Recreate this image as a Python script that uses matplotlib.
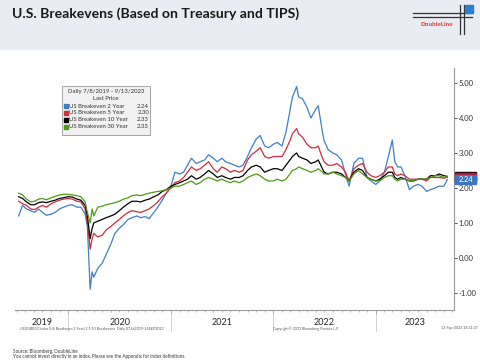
import numpy as np
import pandas as pd
import matplotlib
matplotlib.use("Agg")
import matplotlib.pyplot as plt
import matplotlib.dates as mdates
from matplotlib.patches import Rectangle
from matplotlib.lines import Line2D
from matplotlib.transforms import blended_transform_factory

plt.rcParams['font.family'] = ['Lato', 'DejaVu Sans']

# dates shared by all four series (roughly twice a month)
dates = [
    "2019-07-08", "2019-07-22", "2019-08-05", "2019-08-20", "2019-09-03", "2019-09-17",
    "2019-10-01", "2019-10-15", "2019-11-01", "2019-11-15", "2019-12-01", "2019-12-15",
    "2020-01-01", "2020-01-15", "2020-02-01", "2020-02-15", "2020-03-01", "2020-03-09",
    "2020-03-19", "2020-03-26", "2020-04-01", "2020-04-15", "2020-05-01", "2020-05-15",
    "2020-06-01", "2020-06-15", "2020-07-01", "2020-07-15", "2020-08-01", "2020-08-15",
    "2020-09-01", "2020-09-15", "2020-10-01", "2020-10-15", "2020-11-01", "2020-11-15",
    "2020-12-01", "2020-12-15",
    "2021-01-01", "2021-01-15", "2021-02-01", "2021-02-15", "2021-03-01", "2021-03-15",
    "2021-04-01", "2021-04-15", "2021-05-01", "2021-05-15", "2021-06-01", "2021-06-15",
    "2021-07-01", "2021-07-15", "2021-08-01", "2021-08-15", "2021-09-01", "2021-09-15",
    "2021-10-01", "2021-10-15", "2021-11-01", "2021-11-15", "2021-12-01", "2021-12-15",
    "2022-01-01", "2022-01-15", "2022-02-01", "2022-02-15", "2022-03-01", "2022-03-10",
    "2022-03-25", "2022-04-01", "2022-04-15", "2022-05-01", "2022-05-15", "2022-06-01",
    "2022-06-10", "2022-06-25", "2022-07-01", "2022-07-15", "2022-08-01", "2022-08-15",
    "2022-09-01", "2022-09-15", "2022-09-28", "2022-10-15", "2022-11-01", "2022-11-15",
    "2022-12-01", "2022-12-15",
    "2023-01-01", "2023-01-15", "2023-02-01", "2023-02-15", "2023-03-01", "2023-03-10",
    "2023-03-20", "2023-04-01", "2023-04-15", "2023-05-01", "2023-05-15", "2023-06-01",
    "2023-06-15", "2023-07-01", "2023-07-15", "2023-08-01", "2023-08-15", "2023-09-01",
    "2023-09-13",
]

be_2y = [
    1.20, 1.50, 1.40, 1.35, 1.30, 1.40, 1.30, 1.22, 1.25, 1.30, 1.40, 1.45,
    1.50, 1.52, 1.45, 1.45, 1.25, 0.90, -0.90, -0.40, -0.55, -0.30, -0.15, 0.10,
    0.40, 0.70, 0.85, 0.95, 1.10, 1.15, 1.20, 1.15, 1.18, 1.12, 1.30, 1.45, 1.65, 1.85,
    2.05, 2.45, 2.40, 2.45, 2.65, 2.85, 2.70, 2.75, 2.80, 2.95, 2.85, 2.75,
    2.85, 2.75, 2.70, 2.65, 2.60, 2.65, 2.90, 3.15, 3.40, 3.50, 3.20, 3.15,
    3.25, 3.30, 3.20, 3.60, 4.20, 4.60, 4.90, 4.60, 4.55, 4.30, 4.00, 4.25,
    4.35, 3.60, 3.35, 3.10, 3.00, 2.95, 2.80, 2.40, 2.05, 2.70, 2.85, 2.85, 2.30, 2.20,
    2.10, 2.20, 2.45, 2.90, 3.37, 2.75, 2.60, 2.60, 2.35, 1.95, 2.05, 2.10,
    2.05, 1.90, 1.95, 2.00, 2.05, 2.05, 2.24,
]
be_5y = [
    1.62, 1.55, 1.50, 1.40, 1.38, 1.45, 1.50, 1.45, 1.55, 1.60, 1.65, 1.68,
    1.70, 1.68, 1.62, 1.60, 1.40, 1.00, 0.25, 0.55, 0.70, 0.60, 0.65, 0.80,
    0.90, 1.00, 1.10, 1.20, 1.30, 1.35, 1.32, 1.30, 1.35, 1.40, 1.50, 1.60, 1.75, 1.85,
    2.00, 2.15, 2.20, 2.30, 2.45, 2.60, 2.50, 2.55, 2.65, 2.75, 2.55, 2.45,
    2.60, 2.55, 2.45, 2.50, 2.45, 2.50, 2.80, 2.95, 3.05, 3.15, 2.90, 2.85,
    2.90, 2.90, 2.90, 3.10, 3.35, 3.55, 3.70, 3.55, 3.45, 3.25, 3.15, 3.15,
    3.20, 2.85, 2.75, 2.65, 2.65, 2.70, 2.60, 2.45, 2.20, 2.55, 2.65, 2.70, 2.45, 2.35,
    2.30, 2.35, 2.45, 2.60, 2.60, 2.40, 2.35, 2.40, 2.35, 2.25, 2.25, 2.25,
    2.25, 2.20, 2.30, 2.30, 2.30, 2.28, 2.30,
]
be_10y = [
    1.75, 1.70, 1.60, 1.52, 1.52, 1.58, 1.60, 1.58, 1.62, 1.65, 1.70, 1.72,
    1.75, 1.74, 1.68, 1.65, 1.50, 1.20, 0.55, 0.85, 1.00, 1.05, 1.10, 1.15,
    1.20, 1.25, 1.35, 1.45, 1.55, 1.62, 1.62, 1.60, 1.65, 1.68, 1.75, 1.80, 1.90, 1.95,
    2.05, 2.10, 2.15, 2.20, 2.25, 2.35, 2.25, 2.30, 2.40, 2.50, 2.40, 2.30,
    2.35, 2.30, 2.25, 2.30, 2.30, 2.35, 2.50, 2.60, 2.65, 2.60, 2.45, 2.50,
    2.55, 2.55, 2.50, 2.65, 2.80, 2.90, 3.00, 2.90, 2.85, 2.80, 2.70, 2.75,
    2.80, 2.55, 2.45, 2.40, 2.45, 2.45, 2.40, 2.30, 2.20, 2.45, 2.55, 2.50, 2.30, 2.25,
    2.20, 2.25, 2.35, 2.45, 2.45, 2.30, 2.25, 2.30, 2.25, 2.20, 2.20, 2.25,
    2.25, 2.25, 2.35, 2.35, 2.40, 2.35, 2.33,
]
be_30y = [
    1.85, 1.80, 1.68, 1.60, 1.62, 1.68, 1.70, 1.66, 1.72, 1.76, 1.80, 1.82,
    1.82, 1.80, 1.78, 1.75, 1.60, 1.30, 1.00, 1.40, 1.20, 1.45, 1.48, 1.52,
    1.55, 1.58, 1.62, 1.68, 1.72, 1.78, 1.80, 1.78, 1.82, 1.85, 1.88, 1.90, 1.92, 1.95,
    2.00, 2.05, 2.05, 2.10, 2.15, 2.20, 2.10, 2.15, 2.25, 2.30, 2.25, 2.20,
    2.25, 2.20, 2.15, 2.20, 2.15, 2.20, 2.30, 2.35, 2.40, 2.35, 2.25, 2.20,
    2.20, 2.25, 2.20, 2.25, 2.40, 2.50, 2.55, 2.60, 2.55, 2.50, 2.45, 2.50,
    2.55, 2.45, 2.40, 2.40, 2.45, 2.40, 2.35, 2.30, 2.20, 2.40, 2.50, 2.40, 2.30, 2.25,
    2.20, 2.20, 2.30, 2.35, 2.35, 2.25, 2.20, 2.25, 2.25, 2.20, 2.20, 2.25,
    2.25, 2.25, 2.30, 2.35, 2.35, 2.30, 2.33,
]

series_names = ["US Breakeven 2 Year", "US Breakeven 5 Year",
                "US Breakeven 10 Year", "US Breakeven 30 Year"]
series_colors = ["#3f7fc6", "#d42a3c", "#000000", "#4f9a16"]
years = [2019, 2020, 2021, 2022, 2023]
ytick_vals = [-1, 0, 1, 2, 3, 4, 5]

W, H = 481, 364
fig = plt.figure(figsize=(W / 100, H / 100), dpi=100)

def fx(px):
    return px / W

def fy(py):
    return 1 - py / H

# header band
fig.patches.append(Rectangle((0, fy(49)), 1, 49 / H, transform=fig.transFigure,
                             color="#e9ecf2", zorder=0))
fig.text(fx(12), fy(13.5), "U.S. Breakevens (Based on Treasury and TIPS)",
         fontsize=10.1, fontweight="bold", color="#1a1a1a", va="center", ha="left")

# DoubleLine logo
for yy in [13.3, 16.7]:
    fig.add_artist(Line2D([fx(413), fx(472)], [fy(yy), fy(yy)], color="#333333", lw=0.9))
for xx in [460, 464]:
    fig.add_artist(Line2D([fx(xx), fx(xx)], [fy(5), fy(34)], color="#333333", lw=0.9))
fig.patches.append(Rectangle((fx(465), fy(13)), 8 / W, 8 / H, transform=fig.transFigure,
                             color="#2b7fd0", zorder=3))
fig.text(fx(437), fy(25), "DoubleLine", fontsize=4.6, fontweight="bold",
         color="#e2382e", ha="center", va="center")

# main axes
ax = fig.add_axes([fx(15), fy(310), (454 - 15) / W, (310 - 68) / H])
x = pd.to_datetime(dates)
for vals, c in zip([be_2y, be_5y, be_10y, be_30y], series_colors):
    ax.plot(x, vals, color=c, lw=0.9)

ax.set_xlim(pd.Timestamp("2019-06-25"), pd.Timestamp("2023-10-07"))
ax.set_ylim(-1.49, 5.43)

for s in ["top", "left"]:
    ax.spines[s].set_visible(False)
ax.spines["right"].set_color("#999999")
ax.spines["bottom"].set_color("#999999")
ax.spines["right"].set_linewidth(0.8)
ax.spines["bottom"].set_linewidth(0.8)

ax.yaxis.tick_right()
ax.set_yticks(ytick_vals)
ax.set_yticklabels(["%.2f" % v for v in ytick_vals])
ax.tick_params(axis="y", labelsize=5.5, colors="#333333", length=2, width=0.6, pad=1.5)

ax.xaxis.set_major_locator(mdates.YearLocator())
ax.xaxis.set_minor_locator(mdates.MonthLocator())
ax.xaxis.set_major_formatter(plt.NullFormatter())
ax.tick_params(axis="x", which="major", length=3, width=0.6, colors="#999999")
ax.tick_params(axis="x", which="minor", length=1.5, width=0.5, colors="#999999")

# year labels and separators below the axis
trans = blended_transform_factory(ax.transData, ax.transAxes)
x0, x1 = ax.get_xlim()
for yr in years:
    a = max(mdates.date2num(pd.Timestamp(f"{yr}-01-01")), x0)
    b = min(mdates.date2num(pd.Timestamp(f"{yr + 1}-01-01")), x1)
    ax.text((a + b) / 2, -0.052, str(yr), transform=trans, ha="center", va="center",
            fontsize=6.5, color="#222222", clip_on=False)
    if yr > years[0]:
        sx = mdates.date2num(pd.Timestamp(f"{yr}-01-01"))
        ax.plot([sx, sx], [-0.02, -0.085], transform=trans, color="#cccccc",
                lw=0.6, clip_on=False)

fig.text(fx(20), fy(328.5),
         "USGGBE02 Index (US Breakeven 2 Year) 2 5 10 Breakevens  Daily 07Jul2019-14SEP2023",
         fontsize=2.6, color="#555555", va="center")
fig.text(fx(273), fy(328.5), "Copyright\u00a9 2023 Bloomberg Finance L.P.",
         fontsize=2.6, color="#555555", va="center")
fig.text(fx(478), fy(328.5), "13-Sep-2023 18:31:37",
         fontsize=2.6, color="#555555", va="center", ha="right")

# legend box
fig.patches.append(Rectangle((fx(63), fy(136)), 88 / W, 49 / H, transform=fig.transFigure,
                             facecolor="#c8c8c8", edgecolor="none", zorder=4))
fig.patches.append(Rectangle((fx(62), fy(135)), 88 / W, 49 / H, transform=fig.transFigure,
                             facecolor="#f1f1f1", edgecolor="#9a9a9a", lw=0.6, zorder=5))
fig.text(fx(106), fy(92), "Daily 7/8/2019 - 9/13/2023", fontsize=4.3, color="#333333",
         ha="center", va="center", zorder=6)
fig.text(fx(106), fy(99), "Last Price", fontsize=4.3, color="#333333",
         ha="center", va="center", zorder=6)
all_vals = [be_2y, be_5y, be_10y, be_30y]
for i, (name, c, vals) in enumerate(zip(series_names, series_colors, all_vals)):
    yy = 106 + i * 7
    fig.patches.append(Rectangle((fx(64), fy(yy + 2)), 4 / W, 4 / H,
                                 transform=fig.transFigure, color=c, zorder=6))
    fig.text(fx(69), fy(yy), name, fontsize=4.3, color="#333333", va="center", zorder=6)
    fig.text(fx(149), fy(yy), "%.2f" % vals[-1], fontsize=4.3, color="#333333",
             va="center", ha="right", zorder=6)

# last-price tags on the right axis: black and red peek out above the blue one
ytrans = blended_transform_factory(ax.transAxes, ax.transData)
tag_h = 0.28
tag_w = 0.048
for vals, c, z in [(be_10y, "#000000", 6), (be_5y, "#c8102e", 7), (be_2y, "#3a78c0", 8)]:
    ax.add_patch(Rectangle((1.003, vals[-1] - tag_h / 2), tag_w, tag_h, transform=ytrans,
                           color=c, clip_on=False, zorder=z))
ax.text(1.003 + tag_w / 2, be_2y[-1], "%.2f" % be_2y[-1], transform=ytrans, fontsize=5.3,
        color="white", va="center", ha="center", clip_on=False, zorder=9)

# footer
fig.text(fx(13), fy(351), "Source: Bloomberg, DoubleLine", fontsize=3.3, color="#333333",
         va="center")
fig.text(fx(13), fy(356.5),
         "You cannot invest directly in an index. Please see the Appendix for index definitions.",
         fontsize=3.3, color="#333333", va="center")

fig.savefig("out.png", dpi=100)
